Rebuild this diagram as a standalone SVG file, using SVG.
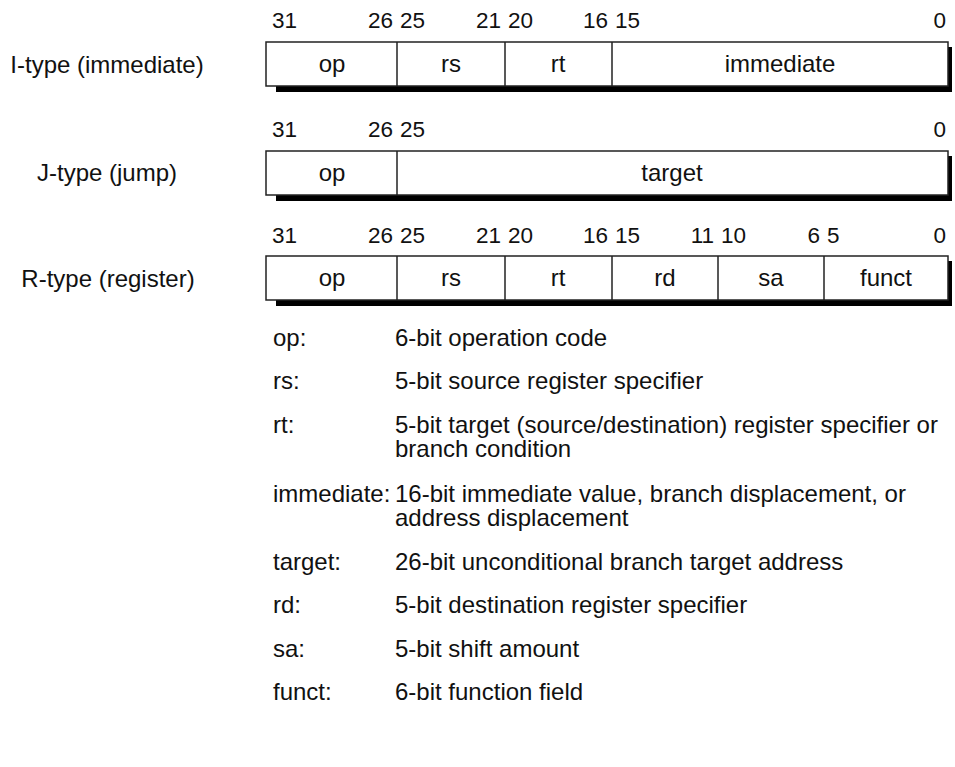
<svg xmlns="http://www.w3.org/2000/svg" width="955" height="767" viewBox="0 0 955 767">
  <style>
    text { font-family: "Liberation Sans", Arial, Helvetica, sans-serif; font-size: 24px; fill: #111; }
    .m { text-anchor: middle; }
    .e { text-anchor: end; }
    .n { font-size: 22.5px; }
    .box { fill: #fff; stroke: #222; stroke-width: 1.5; }
    .div { stroke: #222; stroke-width: 1.5; }
    .shadow { fill: #000; }
  </style>

  <!-- I-type format -->
  <g id="itype">
    <text class="m" x="107" y="73">I-type (immediate)</text>
    <text class="n" x="272" y="28">31</text>
    <text class="n e" x="393" y="28">26</text>
    <text class="n" x="400" y="28">25</text>
    <text class="n e" x="501" y="28">21</text>
    <text class="n" x="508" y="28">20</text>
    <text class="n e" x="608" y="28">16</text>
    <text class="n" x="615" y="28">15</text>
    <text class="n e" x="946" y="28">0</text>
    <rect class="shadow" x="276" y="86" width="676" height="6"/>
    <rect class="shadow" x="948" y="47" width="4" height="45"/>
    <rect class="box" x="266" y="42" width="682" height="44"/>
    <line class="div" x1="397" y1="42" x2="397" y2="86"/>
    <line class="div" x1="505" y1="42" x2="505" y2="86"/>
    <line class="div" x1="612" y1="42" x2="612" y2="86"/>
    <text class="m" x="332" y="72">op</text>
    <text class="m" x="451" y="72">rs</text>
    <text class="m" x="558" y="72">rt</text>
    <text class="m" x="780" y="72">immediate</text>
  </g>

  <!-- J-type format -->
  <g id="jtype">
    <text class="m" x="107" y="181">J-type (jump)</text>
    <text class="n" x="272" y="137">31</text>
    <text class="n e" x="393" y="137">26</text>
    <text class="n" x="400" y="137">25</text>
    <text class="n e" x="946" y="137">0</text>
    <rect class="shadow" x="276" y="195" width="676" height="6"/>
    <rect class="shadow" x="948" y="156" width="4" height="45"/>
    <rect class="box" x="266" y="151" width="682" height="44"/>
    <line class="div" x1="397" y1="151" x2="397" y2="195"/>
    <text class="m" x="332" y="181">op</text>
    <text class="m" x="672" y="181">target</text>
  </g>

  <!-- R-type format -->
  <g id="rtype">
    <text class="m" x="108" y="287">R-type (register)</text>
    <text class="n" x="272" y="243">31</text>
    <text class="n e" x="393" y="243">26</text>
    <text class="n" x="400" y="243">25</text>
    <text class="n e" x="501" y="243">21</text>
    <text class="n" x="508" y="243">20</text>
    <text class="n e" x="608" y="243">16</text>
    <text class="n" x="615" y="243">15</text>
    <text class="n e" x="714" y="243">11</text>
    <text class="n" x="721" y="243">10</text>
    <text class="n e" x="820" y="243">6</text>
    <text class="n" x="827" y="243">5</text>
    <text class="n e" x="946" y="243">0</text>
    <rect class="shadow" x="276" y="300" width="676" height="6"/>
    <rect class="shadow" x="948" y="261" width="4" height="45"/>
    <rect class="box" x="266" y="256" width="682" height="44"/>
    <line class="div" x1="397" y1="256" x2="397" y2="300"/>
    <line class="div" x1="505" y1="256" x2="505" y2="300"/>
    <line class="div" x1="612" y1="256" x2="612" y2="300"/>
    <line class="div" x1="718" y1="256" x2="718" y2="300"/>
    <line class="div" x1="824" y1="256" x2="824" y2="300"/>
    <text class="m" x="332" y="286">op</text>
    <text class="m" x="451" y="286">rs</text>
    <text class="m" x="558" y="286">rt</text>
    <text class="m" x="665" y="286">rd</text>
    <text class="m" x="771" y="286">sa</text>
    <text class="m" x="886" y="286">funct</text>
  </g>

  <!-- Field legend -->
  <g id="legend">
    <text x="273" y="346">op:</text>
    <text x="395" y="346">6-bit operation code</text>
    <text x="273" y="389">rs:</text>
    <text x="395" y="389">5-bit source register specifier</text>
    <text x="273" y="433">rt:</text>
    <text x="395" y="433">5-bit target (source/destination) register specifier or</text>
    <text x="395" y="457">branch condition</text>
    <text x="273" y="502">immediate:</text>
    <text x="395" y="502">16-bit immediate value, branch displacement, or</text>
    <text x="395" y="526">address displacement</text>
    <text x="273" y="570">target:</text>
    <text x="395" y="570">26-bit unconditional branch target address</text>
    <text x="273" y="613">rd:</text>
    <text x="395" y="613">5-bit destination register specifier</text>
    <text x="273" y="657">sa:</text>
    <text x="395" y="657">5-bit shift amount</text>
    <text x="273" y="700">funct:</text>
    <text x="395" y="700">6-bit function field</text>
  </g>
</svg>
